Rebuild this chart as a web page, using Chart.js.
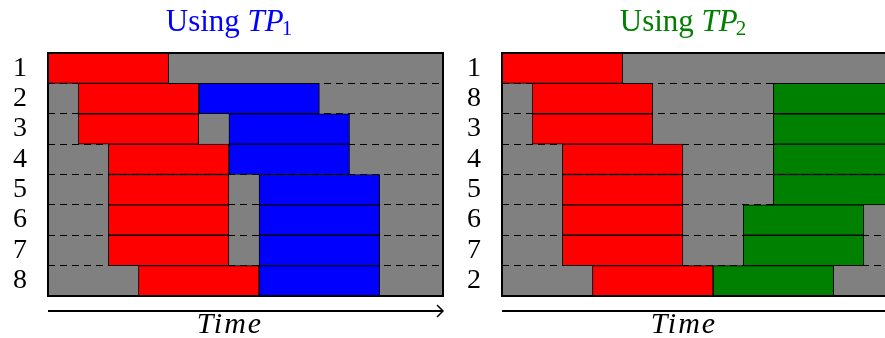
<!DOCTYPE html>
<html>
<head>
<meta charset="utf-8">
<script src="https://cdn.jsdelivr.net/npm/chart.js@4/dist/chart.umd.min.js"></script>
<style>
  html, body { margin: 0; padding: 0; background: #fff; overflow: hidden; width: 885px; height: 338px; }
  canvas { position: absolute; top: 0; }
  #tp1 { left: 0; }
  #tp2 { left: 454px; }
</style>
</head>
<body>
<canvas id="tp1" width="455" height="338"></canvas>
<canvas id="tp2" width="455" height="338"></canvas>
<script>
// rows (job order) and [start, end] times for each panel
const rowsTP1 = ['1', '2', '3', '4', '5', '6', '7', '8'];
const redTP1 = [[0, 4], [1, 5], [1, 5], [2, 6], [2, 6], [2, 6], [2, 6], [3, 7]];
const blueTP1 = [null, [5, 9], [6, 10], [6, 10], [7, 11], [7, 11], [7, 11], [7, 11]];

const rowsTP2 = ['1', '8', '3', '4', '5', '6', '7', '2'];
const redTP2 = [[0, 4], [1, 5], [1, 5], [2, 6], [2, 6], [2, 6], [2, 6], [3, 7]];
const greenTP2 = [null, [9, 13], [9, 13], [9, 13], [9, 13], [8, 12], [8, 12], [7, 11]];

const timeMax = 13.1;
const serif = "'Liberation Serif'";

// gray background, frame, titles, arrow and Time label
const ganttDeco = {
    id: 'ganttDeco',
    beforeDraw(chart) {
        const { ctx, chartArea: a } = chart;
        ctx.save();
        ctx.fillStyle = '#808080';
        ctx.fillRect(a.left, a.top, a.right - a.left, a.bottom - a.top);
        ctx.restore();
    },
    afterDraw(chart, args, opts) {
        const { ctx, chartArea: a } = chart;
        ctx.save();
        // frame
        ctx.strokeStyle = '#000';
        ctx.lineWidth = 2;
        ctx.strokeRect(a.left, a.top, a.right - a.left, a.bottom - a.top);

        // time arrow
        const ay = 311;
        ctx.lineWidth = 2;
        ctx.beginPath();
        ctx.moveTo(a.left, ay);
        ctx.lineTo(a.right - 1, ay);
        ctx.stroke();
        ctx.lineWidth = 1.5;
        ctx.beginPath();
        ctx.moveTo(a.right - 6, ay - 6);
        ctx.lineTo(a.right, ay);
        ctx.lineTo(a.right - 6, ay + 6);
        ctx.stroke();

        // Time label
        ctx.fillStyle = '#000';
        ctx.font = 'italic 30px ' + serif;
        ctx.letterSpacing = '2px';
        ctx.textAlign = 'center';
        ctx.textBaseline = 'alphabetic';
        ctx.fillText('Time', 230, 333);
        ctx.letterSpacing = '0px';

        // title: Using TP_n
        ctx.textAlign = 'left';
        ctx.fillStyle = opts.color;
        const f1 = '31px ' + serif, f2 = 'italic 31px ' + serif, f3 = '21px ' + serif;
        ctx.font = f1; const w1 = ctx.measureText('Using ').width;
        ctx.font = f2; const w2 = ctx.measureText('TP').width;
        ctx.font = f3; const w3 = ctx.measureText(opts.sub).width;
        let x = 229 - (w1 + w2 + w3 - 2) / 2;
        ctx.font = f1; ctx.fillText('Using ', x, 31); x += w1;
        ctx.font = f2; ctx.fillText('TP', x, 31); x += w2 - 2;
        ctx.font = f3; ctx.fillText(opts.sub, x, 35);
        ctx.restore();
    }
};

function makeGantt(id, rows, red, second, secondColor, titleColor, sub) {
    new Chart(document.getElementById(id), {
        type: 'bar',
        data: {
            labels: rows,
            datasets: [
                { data: red, backgroundColor: '#ff0000' },
                { data: second, backgroundColor: secondColor }
            ]
        },
        options: {
            indexAxis: 'y',
            responsive: false,
            animation: false,
            grouped: false,
            categoryPercentage: 1,
            barPercentage: 1,
            borderColor: '#000',
            borderWidth: 1,
            borderSkipped: false,
            layout: { padding: { top: 53, bottom: 42, left: 0, right: 12 } },
            plugins: {
                legend: { display: false },
                tooltip: { enabled: false },
                ganttDeco: { color: titleColor, sub: sub }
            },
            scales: {
                x: { display: false, min: 0, max: timeMax },
                y: {
                    grid: { color: '#000', lineWidth: 1, drawTicks: false, offset: true },
                    border: { display: false, dash: [7, 5] },
                    ticks: { color: '#000', padding: 21, autoSkip: false, font: { family: serif, size: 28 } },
                    afterFit(scale) { scale.width = 48; }
                }
            }
        },
        plugins: [ganttDeco]
    });
}

makeGantt('tp1', rowsTP1, redTP1, blueTP1, '#0000ff', '#0000ff', '1');
makeGantt('tp2', rowsTP2, redTP2, greenTP2, '#008000', '#008000', '2');
</script>
</body>
</html>
